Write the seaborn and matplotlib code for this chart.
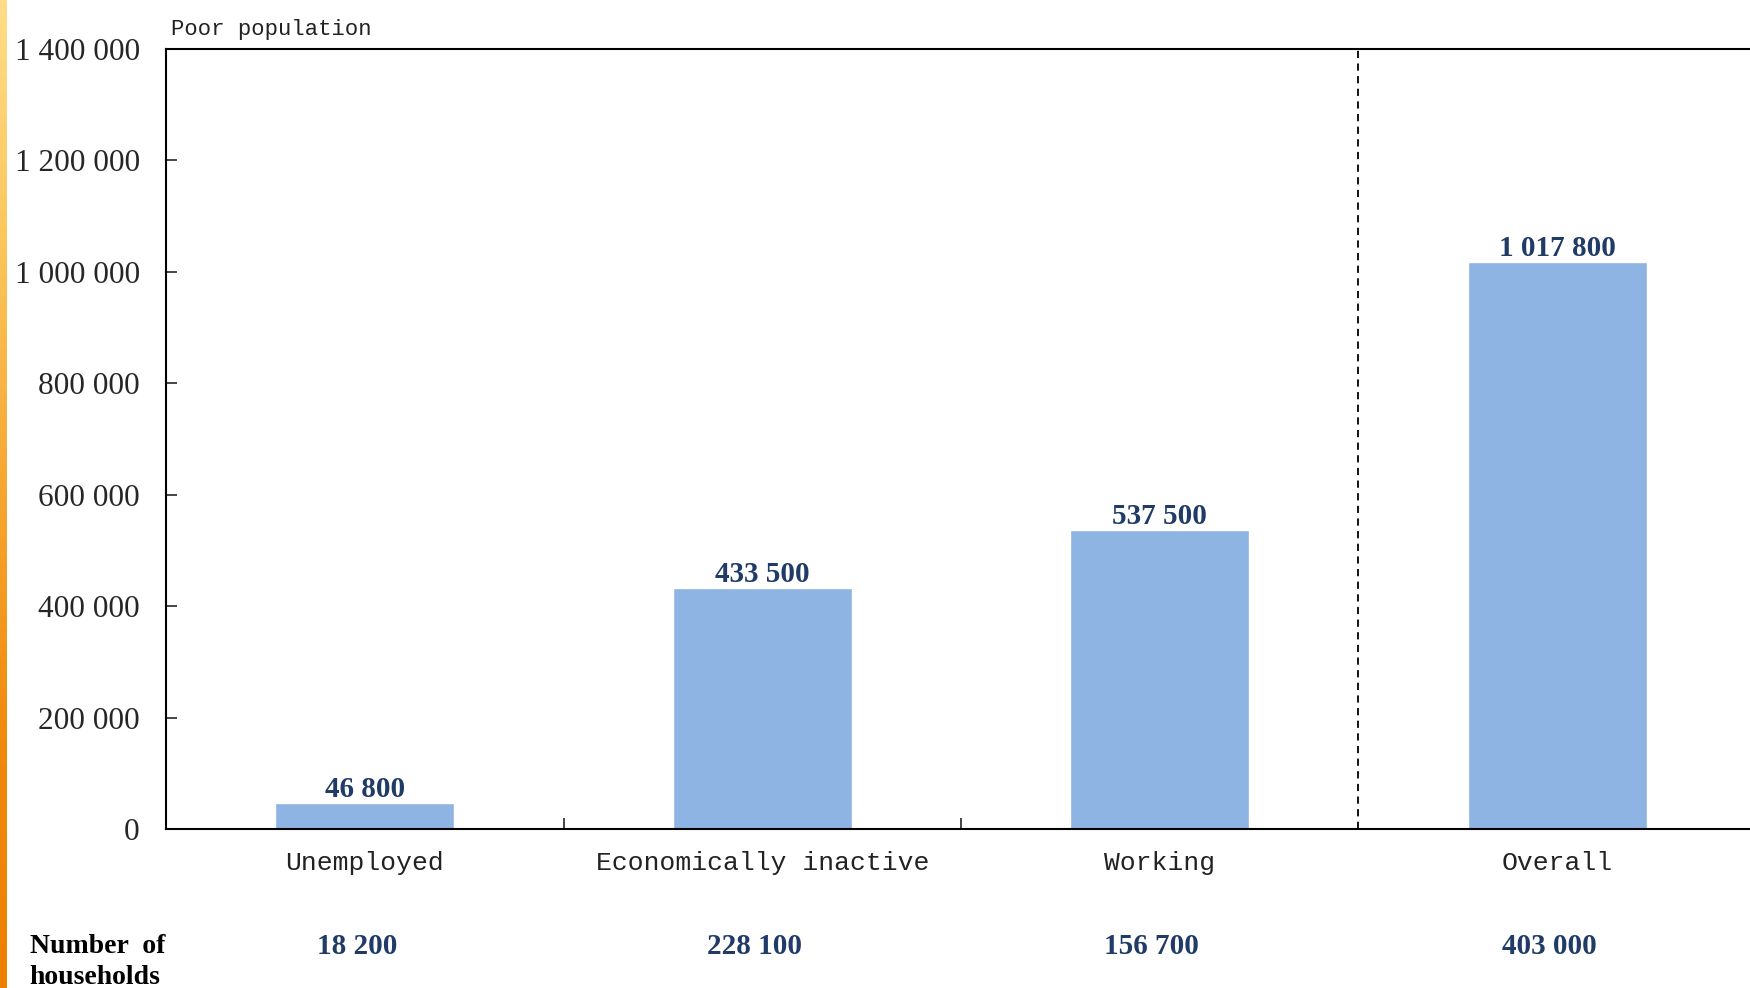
import numpy as np
import pandas as pd
import matplotlib
matplotlib.use("Agg")
import matplotlib.pyplot as plt
import seaborn as sns
from matplotlib.colors import LinearSegmentedColormap

# Poor population and number of households by economic activity status
categories = ["Unemployed", "Economically inactive", "Working", "Overall"]
poor_population = [46800, 433500, 537500, 1017800]
households = [18200, 228100, 156700, 403000]
y_ticks = [0, 200000, 400000, 600000, 800000, 1000000, 1200000, 1400000]


def spaced(n):
    return f"{n:,}".replace(",", " ")


sns.set_theme(style="white")
plt.rcParams["font.family"] = ["Liberation Serif", "DejaVu Serif"]

BAR = "#8EB4E3"
NAVY = "#1F3B66"
MONO = ["Liberation Mono", "DejaVu Sans Mono"]

fig = plt.figure(figsize=(17.5, 9.88), dpi=100)
fig.patch.set_facecolor("white")

# orange decorative strip along the left edge
strip = fig.add_axes([0, 0, 0.0036, 1])
cmap = LinearSegmentedColormap.from_list(
    "edge", ["#EE7F00", "#F08A0C", "#F6A630", "#FBC55A", "#FFDD88"])
strip.imshow(np.linspace(0, 1, 256)[:, None], aspect="auto", cmap=cmap,
             origin="lower")
strip.set_axis_off()

ax = fig.add_axes([0.0949, 0.1609, 0.9085, 0.7895])
df = pd.DataFrame({"status": categories, "population": poor_population})
sns.barplot(data=df, x="status", y="population", color=BAR, width=0.45,
            saturation=1, ax=ax)

ax.set_xlim(-0.5, 3.5)
ax.set_ylim(0, 1400000)
ax.set_yticks(y_ticks)
ax.set_yticklabels([spaced(v) for v in y_ticks], fontsize=22.5)
ax.set_xlabel("")
ax.set_ylabel("")

# category labels
ax.set_xticks(range(len(categories)))
ax.set_xticklabels(categories, fontsize=19, family=MONO, color="#222222")
ax.tick_params(axis="x", length=0, pad=16)
ax.tick_params(axis="y", direction="in", length=8, width=1.2, pad=19,
               left=True)

# minor ticks marking category boundaries on the bottom axis
ax.set_xticks([0.5, 1.5], minor=True)
ax.tick_params(axis="x", which="minor", direction="in", length=8, width=1.2,
               bottom=True)

for side in ["left", "bottom", "top"]:
    ax.spines[side].set_visible(True)
    ax.spines[side].set_color("black")
    ax.spines[side].set_linewidth(1.5)
ax.spines["right"].set_visible(False)

# separator before the overall bar
ax.axvline(2.5, color="black", linestyle=(0, (4, 3)), linewidth=1.3)

# value labels
ax.bar_label(ax.containers[0], labels=[spaced(v) for v in poor_population],
             padding=0, fontsize=21, fontweight="bold", color=NAVY)

ax.text(0.003, 1.012, "Poor population", transform=ax.transAxes,
        fontsize=16, family=MONO, color="#222222", va="bottom", ha="left")

# household counts below the axis
trans = ax.get_xaxis_transform()
for i, h in enumerate(households):
    ax.text(i - 0.02, -0.151, spaced(h), transform=trans, ha="center",
            va="center", fontsize=21, fontweight="bold", color=NAVY)

fig.text(0.017, 0.026, "Number  of\nhouseholds", ha="left", va="center",
         fontsize=20, fontweight="bold", color="black", linespacing=1.3)

fig.savefig("out.png", dpi=100, facecolor="white")
